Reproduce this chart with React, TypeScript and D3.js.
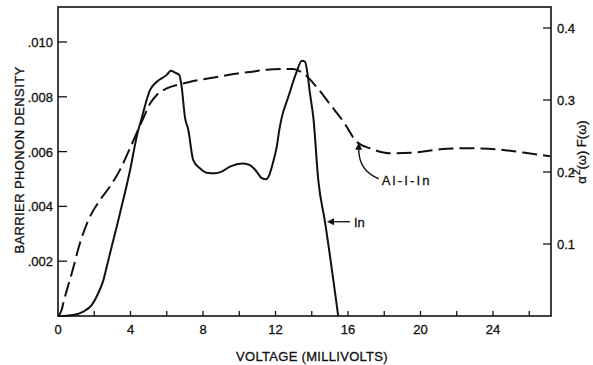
import React from "react";
import * as d3 from "d3";

// In (solid) — barrier phonon density vs voltage (mV)
const inVoltage = [0, 0.84, 1.4, 1.86, 2.22, 2.5, 2.69, 2.96, 3.24, 3.42, 3.97, 4.36, 4.62, 5.08, 5.45, 6.0, 6.22, 6.46, 6.69, 6.82, 7.01, 7.19, 7.46, 7.83, 8.2, 8.66, 9.03, 9.49, 10.22, 10.59, 10.96, 11.24, 11.48, 11.66, 11.85, 12.07, 12.21, 12.34, 12.71, 13.17, 13.45, 13.63, 13.75, 13.9, 14.09, 14.36, 14.73, 15.46];
const inDensity = [0, 0.00004, 0.00016, 0.0004, 0.00083, 0.0013, 0.0018, 0.00253, 0.00326, 0.00375, 0.0053, 0.0066, 0.00723, 0.00825, 0.00855, 0.0088, 0.00895, 0.00888, 0.0088, 0.00837, 0.00723, 0.00679, 0.00569, 0.00539, 0.00523, 0.00521, 0.00527, 0.00545, 0.00557, 0.00551, 0.00527, 0.00503, 0.00499, 0.00515, 0.00557, 0.00618, 0.00679, 0.00723, 0.008, 0.00892, 0.00932, 0.00928, 0.00892, 0.00813, 0.00723, 0.00496, 0.00344, 0];

// Al-I-In (dashed) — alpha^2(omega) F(omega) vs voltage (mV)
const alVoltage = [0, 0.2, 0.29, 0.57, 0.76, 1.21, 1.67, 2.32, 2.87, 3.42, 3.97, 4.71, 5.08, 5.45, 6.0, 6.91, 7.83, 8.76, 9.67, 10.59, 11.51, 12.43, 12.98, 13.53, 14.27, 15.01, 15.72, 16.48, 17.21, 18.32, 19.6, 21.08, 22.73, 24.2, 25.67, 27.14];
const alAlpha2F = [0, 0.0083, 0.0176, 0.043, 0.0593, 0.101, 0.133, 0.161, 0.18, 0.203, 0.233, 0.275, 0.295, 0.307, 0.316, 0.323, 0.328, 0.332, 0.336, 0.339, 0.342, 0.343, 0.343, 0.337, 0.318, 0.294, 0.271, 0.242, 0.233, 0.226, 0.227, 0.2315, 0.233, 0.2315, 0.227, 0.222];

const xTickLabels = [0, 4, 8, 12, 16, 20, 24];
const xMinorTicks = [2, 4, 6, 8, 10, 12, 14, 16, 18, 20, 22, 24, 26];
const leftTicks = [0.002, 0.004, 0.006, 0.008, 0.01];
const leftTickLabels = [".002", ".004", ".006", ".008", ".010"];
const rightTicks = [0.1, 0.2, 0.3, 0.4];
const rightTickLabels = ["0.1", "0.2", "0.3", "0.4"];

const W = 593;
const H = 365;
const left = 58;
const right = 551;
const top = 7;
const bottom = 316;
const FONT = "'Liberation Sans', Arial, sans-serif";
const INK = "#111";
const textInk = { fill: INK, stroke: INK, strokeWidth: 0.3 };

export default function App() {
  const x = d3.scaleLinear().domain([0, (right - left) / 18.125]).range([left, right]);
  const yL = d3.scaleLinear().domain([0, (bottom - top) / 27400]).range([bottom, top]);
  const yR = d3.scaleLinear().domain([0, (bottom - top) / 720]).range([bottom, top]);

  const inPts: [number, number][] = inVoltage.map((v, i) => [x(v), yL(inDensity[i])]);
  const alPts: [number, number][] = alVoltage.map((v, i) => [x(v), yR(alAlpha2F[i])]);
  const line = d3.line().curve(d3.curveMonotoneX);

  // annotation anchors
  const inTipX = x(14.73) + 2;
  const inTipY = yL(0.00344);
  const alTipX = x(16.48) + 2;
  const alTipY = yR(0.242) + 1;

  return (
    <svg width={W} height={H} style={{ position: "absolute", left: 0, top: 0, background: "#fff" }} fontFamily={FONT}>
      <rect x={0} y={0} width={W} height={H} fill="#fff" />
      {/* frame */}
      <rect x={left} y={top} width={right - left} height={bottom - top} fill="none" stroke={INK} strokeWidth={1.6} />

      {/* bottom ticks */}
      {xMinorTicks.map((t) => (
        <line key={"xt" + t} x1={x(t)} x2={x(t)} y1={bottom} y2={bottom - 5} stroke={INK} strokeWidth={1.3} />
      ))}
      {xTickLabels.map((t) => (
        <text key={"xl" + t} x={x(t)} y={334} textAnchor="middle" fontSize={13} {...textInk}>
          {t}
        </text>
      ))}
      <text x={312} y={361} textAnchor="middle" fontSize={13} {...textInk} letterSpacing={0.3}>
        VOLTAGE (MILLIVOLTS)
      </text>

      {/* left ticks */}
      {leftTicks.map((t, i) => (
        <g key={"yl" + t}>
          <line x1={left} x2={left + 9} y1={yL(t)} y2={yL(t)} stroke={INK} strokeWidth={1.3} />
          <text x={53} y={yL(t) + 5} textAnchor="end" fontSize={13} {...textInk}>
            {leftTickLabels[i]}
          </text>
        </g>
      ))}
      <text
        transform={`translate(24,${160}) rotate(-90)`}
        textAnchor="middle"
        fontSize={13}
        {...textInk}
        letterSpacing={0.4}
      >
        BARRIER PHONON DENSITY
      </text>

      {/* right ticks */}
      {rightTicks.map((t, i) => (
        <g key={"yr" + t}>
          <line x1={right - 8} x2={right} y1={yR(t)} y2={yR(t)} stroke={INK} strokeWidth={1.3} />
          <text x={557} y={yR(t) + 5} textAnchor="start" fontSize={13} {...textInk}>
            {rightTickLabels[i]}
          </text>
        </g>
      ))}
      <text transform={`translate(586,${152}) rotate(-90)`} textAnchor="middle" fontSize={13} {...textInk}>
        α<tspan dx={1} dy={-6} fontSize={10}>2</tspan>
        <tspan dy={6}>(ω) F(ω)</tspan>
      </text>

      {/* curves */}
      <path d={line(alPts) || ""} fill="none" stroke={INK} strokeWidth={2} strokeDasharray="15,6" />
      <path d={line(inPts) || ""} fill="none" stroke={INK} strokeWidth={2} />

      {/* In annotation */}
      <line x1={inTipX + 6} x2={inTipX + 23} y1={inTipY} y2={inTipY} stroke={INK} strokeWidth={1.3} />
      <path d={`M${inTipX},${inTipY} l7,-3.5 l0,7 z`} fill={INK} />
      <text x={inTipX + 27} y={inTipY + 5} fontSize={13} {...textInk}>
        In
      </text>

      {/* Al-I-In annotation */}
      <path
        d={`M${alTipX + 20},${alTipY + 36} Q${alTipX},${alTipY + 28} ${alTipX},${alTipY + 6}`}
        fill="none"
        stroke={INK}
        strokeWidth={1.4}
      />
      <path d={`M${alTipX},${alTipY} l-3.5,7 l7,0 z`} fill={INK} />
      <text x={alTipX + 23} y={alTipY + 42} fontSize={13} {...textInk} letterSpacing={2.2}>
        Al-I-In
      </text>
    </svg>
  );
}
